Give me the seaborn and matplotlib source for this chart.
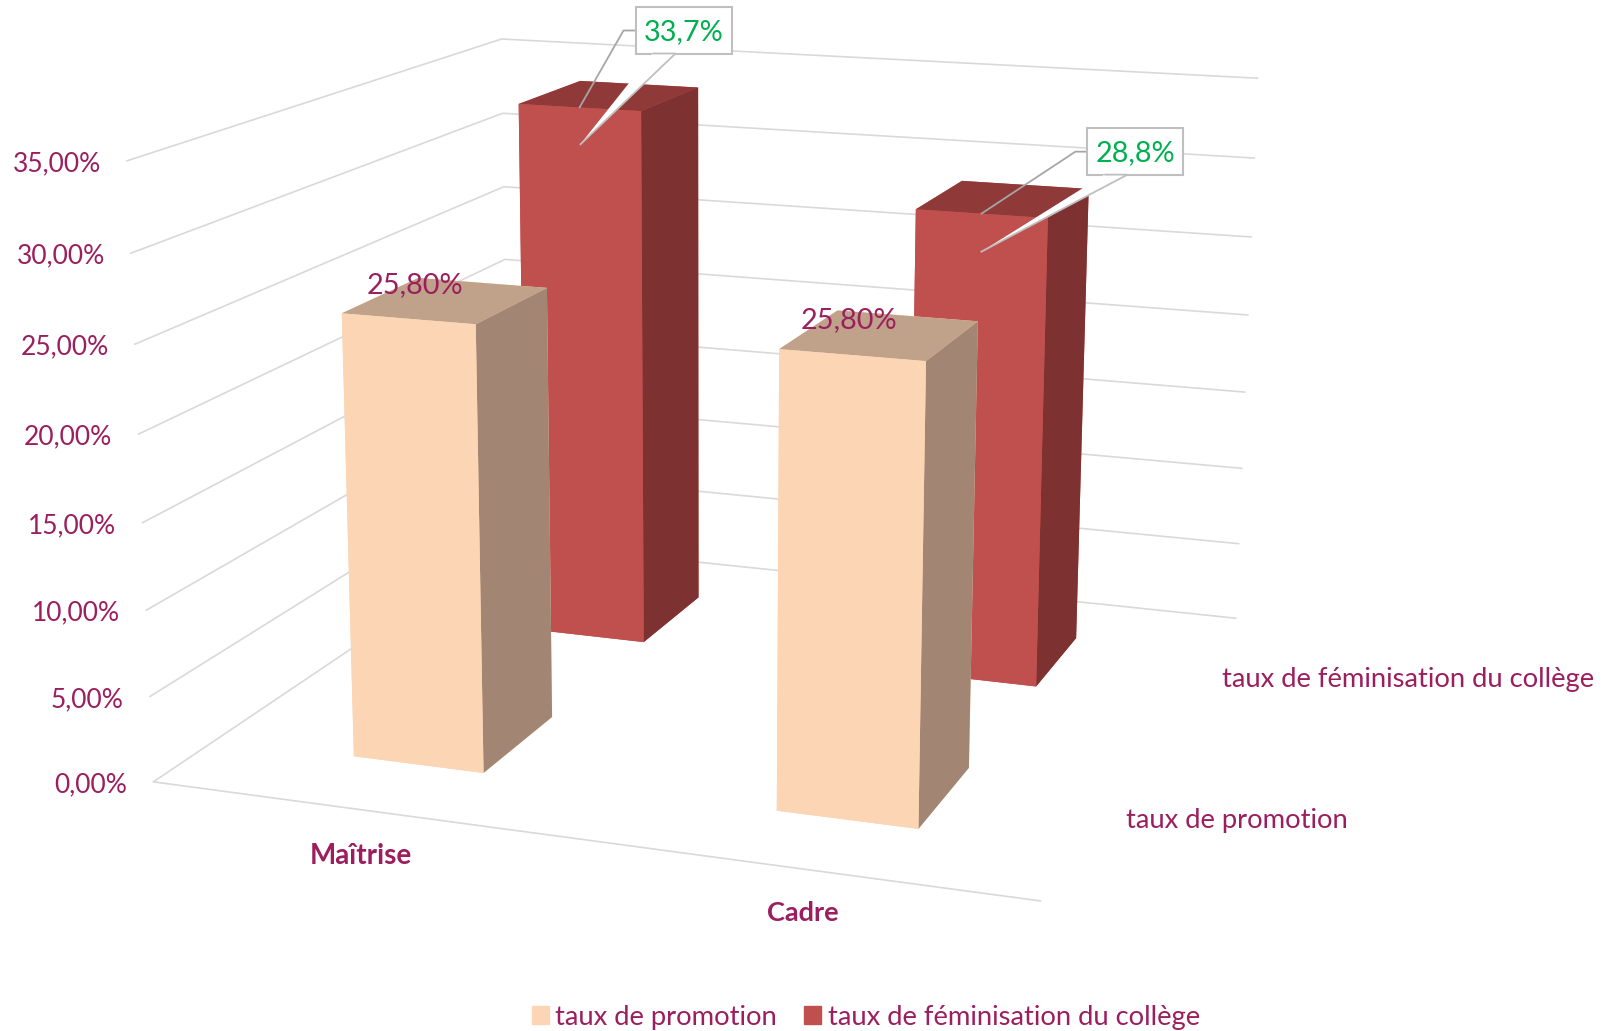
#!/usr/bin/env python3
import matplotlib
matplotlib.use('Agg')
import matplotlib.pyplot as plt
import seaborn as sns
from matplotlib.patches import Patch, Polygon, Rectangle
from matplotlib.transforms import IdentityTransform
from mpl_toolkits.mplot3d import proj3d

categories = ['Maîtrise', 'Cadre']
series = ['taux de promotion', 'taux de féminisation du collège']
promotion = [25.8, 25.8]
feminisation = [33.7, 28.8]
grid_levels = [0, 5, 10, 15, 20, 25, 30, 35]

TEXT = '#9b1f5e'
GREEN = '#00b050'
GRID = '#d9d9d9'
BOX = '#bfbfbf'
WIDTH, HEIGHT = 1607, 1031

# face order for bar3d: bottom, top, front, back, left, right
promo_faces = sns.color_palette(['#fcd5b5', '#bfa289', '#fcd5b5', '#fcd5b5', '#fcd5b5', '#a28673'])
fem_faces = sns.color_palette(['#c0504d', '#8f3a38', '#c0504d', '#c0504d', '#c0504d', '#7d3130'])

sns.set_theme(style='white')
plt.rcParams['font.family'] = 'Lato'

fig = plt.figure(figsize=(WIDTH / 100, HEIGHT / 100), dpi=100)
# camera fitted on the reference, square axes so x and y pixels match
ax = fig.add_axes([60.1 / WIDTH, -54.95 / HEIGHT, 1313.4 / WIDTH, 1313.4 / HEIGHT], projection='3d')
ax.computed_zorder = False
ax.view_init(14.178, -70.5214, -0.1093)
ax.set_proj_type('persp', focal_length=0.4742)
ax.set_box_aspect((1.3738, 1.3554, 0.9461))
ax.set_axis_off()

# walls and floor
for level in grid_levels:
    ax.plot([0, 0, 2], [0, 2, 2], [level] * 3, color=GRID, lw=1.2, zorder=1)
ax.plot([0, 2], [0, 0], [0, 0], color=GRID, lw=1.2, zorder=1)

# back row first, then front row
z = 2
for row, values, faces in [(1, feminisation, fem_faces), (0, promotion, promo_faces)]:
    for i, v in enumerate(values):
        ax.bar3d(i + 0.5 - 0.158, row + 0.5 - 0.2, 0, 0.316, 0.4, v, color=faces, shade=False,
                 edgecolor='none', zorder=z)
        z += 1

ax.set_xlim(0, 2)
ax.set_ylim(0, 2)
ax.set_zlim(0, 35)


def to_pixels(x, y, z):
    u, v, _ = proj3d.proj_transform(x, y, z, ax.get_proj())
    return ax.transData.transform((u, v))


def label(x, y, z, text, dx=0, dy=0, **kw):
    px, py = to_pixels(x, y, z)
    kw.setdefault('color', TEXT)
    kw.setdefault('fontsize', 19.5)
    kw.setdefault('va', 'center')
    fig.text((px + dx) / WIDTH, (py + dy) / HEIGHT, text, **kw)


for level in grid_levels:
    label(0, 0, level, f'{level:.2f}%'.replace('.', ','), dx=-26, dy=-3, ha='right', fontsize=19)

label(0.5, 0, 0, categories[0], dx=1, dy=-46, ha='center', fontweight='bold', fontsize=20)
label(1.5, 0, 0, categories[1], dx=0, dy=-44, ha='center', fontweight='bold')
label(2, 0.5, 0, series[0], dx=27, dy=-4, ha='left', fontsize=19.7)
label(2, 1.5, 0, series[1], dx=27, dy=-2, ha='left', fontsize=19.7)

for i, v in enumerate(promotion):
    label(i + 0.5, 0.5, v, f'{v:.2f}%'.replace('.', ','), dx=-31, dy=15, ha='center', fontsize=20.8)


def callout(i, value, box_dx, box_dy, elbow_dx):
    ax0, ay0 = to_pixels(i + 0.5, 1.3, value)
    tip = to_pixels(i + 0.5, 1.3, value - 2.3)
    left, top = ax0 + box_dx, ay0 + box_dy
    bw, bh = 96, 47
    art = IdentityTransform()
    fig.add_artist(Rectangle((left, top - bh), bw, bh, fc='white', ec=BOX, lw=1.5, transform=art, zorder=6))
    mid = top - 24
    fig.add_artist(plt.Line2D([left, left + elbow_dx, ax0], [mid, mid, ay0], color='#a6a6a6', lw=1.3,
                              transform=art, zorder=5))
    base = [(left + 17, top - bh), (left + 40, top - bh)]
    fig.add_artist(Polygon(base + [tuple(tip)], closed=False, fc='white', ec=BOX, lw=1.3, transform=art, zorder=7))
    fig.text((left + bw / 2) / WIDTH, (top - bh / 2 - 2) / HEIGHT, f'{value:.1f}%'.replace('.', ','), color=GREEN,
             fontsize=20.8, ha='center', va='center', zorder=8)


callout(0, feminisation[0], 56, 101, -12)
callout(1, feminisation[1], 106, 86, -12)

handles = [Patch(color=promo_faces[0]), Patch(color=fem_faces[0])]
fig.legend(handles, series, loc='center', bbox_to_anchor=(866 / WIDTH, 1 - 1017 / HEIGHT), ncol=2, frameon=False,
           fontsize=19.7, labelcolor=TEXT, handlelength=0.6, handleheight=0.6, handletextpad=0.25,
           columnspacing=1.0)

fig.savefig('out.png', dpi=100)
